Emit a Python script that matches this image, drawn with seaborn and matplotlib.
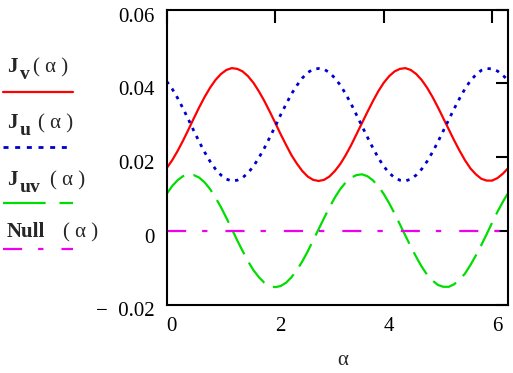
import numpy as np
import pandas as pd
import matplotlib
matplotlib.use("Agg")
import matplotlib.pyplot as plt
import matplotlib.transforms as mtransforms
from matplotlib.lines import Line2D
import seaborn as sns

# ---- data ----
alpha = [0.0, 0.1, 0.2, 0.3, 0.4, 0.5, 0.6, 0.7, 0.8, 0.9,
         1.0, 1.1, 1.2, 1.3, 1.4, 1.5, 1.6, 1.7, 1.8, 1.9,
         2.0, 2.1, 2.2, 2.3, 2.4, 2.5, 2.6, 2.7, 2.8, 2.9,
         3.0, 3.1, 3.2, 3.3, 3.4, 3.5, 3.6, 3.7, 3.8, 3.9,
         4.0, 4.1, 4.2, 4.3, 4.4, 4.5, 4.6, 4.7, 4.8, 4.9,
         5.0, 5.1, 5.2, 5.3, 5.4, 5.5, 5.6, 5.7, 5.8, 5.9,
         6.0, 6.1, 6.2, 6.283]
J_v = [0.0170, 0.0191, 0.0216, 0.0244, 0.0274, 0.0305, 0.0335, 0.0363, 0.0388, 0.0409,
       0.0425, 0.0436, 0.0441, 0.0439, 0.0432, 0.0419, 0.0401, 0.0378, 0.0352, 0.0323,
       0.0293, 0.0262, 0.0233, 0.0205, 0.0182, 0.0162, 0.0147, 0.0138, 0.0135, 0.0138,
       0.0147, 0.0162, 0.0181, 0.0205, 0.0232, 0.0262, 0.0292, 0.0322, 0.0351, 0.0378,
       0.0401, 0.0419, 0.0432, 0.0439, 0.0441, 0.0436, 0.0425, 0.0409, 0.0388, 0.0363,
       0.0335, 0.0305, 0.0275, 0.0245, 0.0217, 0.0191, 0.0169, 0.0153, 0.0141, 0.0136,
       0.0136, 0.0143, 0.0155, 0.0168]
J_u = [0.0405, 0.0385, 0.0360, 0.0332, 0.0302, 0.0271, 0.0241, 0.0213, 0.0188, 0.0167,
       0.0151, 0.0140, 0.0135, 0.0137, 0.0144, 0.0157, 0.0175, 0.0198, 0.0224, 0.0253,
       0.0283, 0.0314, 0.0343, 0.0371, 0.0394, 0.0414, 0.0429, 0.0438, 0.0440, 0.0438,
       0.0429, 0.0414, 0.0395, 0.0371, 0.0344, 0.0314, 0.0284, 0.0254, 0.0225, 0.0198,
       0.0175, 0.0157, 0.0144, 0.0137, 0.0135, 0.0140, 0.0151, 0.0167, 0.0188, 0.0213,
       0.0241, 0.0271, 0.0301, 0.0331, 0.0359, 0.0385, 0.0407, 0.0423, 0.0435, 0.0440,
       0.0439, 0.0433, 0.0421, 0.0410]
J_uv = [0.0100, 0.0121, 0.0137, 0.0148, 0.0153, 0.0151, 0.0144, 0.0131, 0.0113, 0.0090,
        0.0064, 0.0035, 0.0005, -0.0026, -0.0055, -0.0083, -0.0107, -0.0126, -0.0141, -0.0150,
        -0.0153, -0.0150, -0.0141, -0.0126, -0.0107, -0.0083, -0.0056, -0.0026, 0.0004, 0.0034,
        0.0063, 0.0090, 0.0113, 0.0131, 0.0144, 0.0151, 0.0153, 0.0148, 0.0137, 0.0121,
        0.0100, 0.0075, 0.0047, 0.0017, -0.0013, -0.0043, -0.0071, -0.0097, -0.0119, -0.0135,
        -0.0147, -0.0152, -0.0152, -0.0145, -0.0133, -0.0116, -0.0093, -0.0067, -0.0039, -0.0009,
        0.0022, 0.0052, 0.0079, 0.0100]
null = [0.0] * len(alpha)

x_ticks = [0, 2, 4, 6]
y_ticks = [-0.02, 0.0, 0.02, 0.04, 0.06]
y_ticklabels = ["\u2212  0.02", "0", "0.02", "0.04", "0.06"]

# legend pieces: (main bold text, bold subscript, argument text)
legend_main = ["J", "J", "J", "Null"]
legend_sub = ["v", "u", "uv", ""]
legend_arg = ["( α )", "( α )", "( α )", "( α )"]

df = pd.DataFrame({"alpha": alpha, "Jv": J_v, "Ju": J_u, "Juv": J_uv, "Null": null})

# ---- style ----
sns.set_theme(style="white")
plt.rcParams["font.family"] = ["Liberation Serif", "DejaVu Serif"]

W, H = 513, 373
fig = plt.figure(figsize=(W / 100, H / 100), dpi=100)
ax = fig.add_axes([166.7 / W, 1 - 304.5 / H, (507.5 - 166.7) / W, (304.5 - 9.5) / H])

RED, BLUE, GREEN, MAG = "#ff0000", "#0000cc", "#00dd00", "#ee00ee"

sns.lineplot(data=df, x="alpha", y="Jv", ax=ax, color=RED, lw=1.6)
sns.lineplot(data=df, x="alpha", y="Ju", ax=ax, color=BLUE, lw=2.0, linestyle=(0, (1.2, 2.0)))
sns.lineplot(data=df, x="alpha", y="Juv", ax=ax, color=GREEN, lw=1.6, linestyle=(0, (11.5, 4.3)))
sns.lineplot(data=df, x="alpha", y="Null", ax=ax, color=MAG, lw=1.6,
             linestyle=(0, (8.6, 7.2, 2.4, 8.1)))

ax.set_xlim(0, 2 * np.pi)
ax.set_ylim(-0.02, 0.06)
ax.set_xticks(x_ticks)
ax.set_xticklabels([str(t) for t in x_ticks])
ax.set_yticks(y_ticks)
ax.set_yticklabels(y_ticklabels)
ax.tick_params(direction="in", length=9, width=1.5, top=True, right=True,
               labelsize=15, colors="black")
ax.tick_params(axis="y", pad=8.5)
ax.tick_params(axis="x", pad=9)
for sp in ax.spines.values():
    sp.set_visible(True)
    sp.set_color("black")
    sp.set_linewidth(1.5)
ax.set_ylabel("")
ax.set_xlabel("α", fontsize=15, labelpad=11, x=0.515)
ax.grid(False)

# Mathcad-like offsets of tick labels
for lab in ax.get_xticklabels():
    lab.set_transform(lab.get_transform() + mtransforms.ScaledTranslation(5 / 100, 0, fig.dpi_scale_trans))
for lab in ax.get_yticklabels():
    lab.set_transform(lab.get_transform() + mtransforms.ScaledTranslation(0, -5 / 100, fig.dpi_scale_trans))

# ---- legend on the left ----
text_base = [72, 128, 185, 237]
arg_x = [33, 38, 50, 63]
line_y = [92, 147, 203, 249]
styles = [
    dict(color=RED, lw=1.6, linestyle="-"),
    dict(color=BLUE, lw=2.0, linestyle=(0, (1.8, 2.4))),
    dict(color=GREEN, lw=1.6, linestyle=(0, (19.2, 6.2))),
    dict(color=MAG, lw=1.6, linestyle=(0, (8.6, 7.2, 2.4, 8.1))),
]
for main, sub, arg, ty, ax_, ly, st in zip(legend_main, legend_sub, legend_arg,
                                          text_base, arg_x, line_y, styles):
    fig.text(7 / W, 1 - ty / H, main, fontsize=15, fontweight="bold", ha="left", va="baseline")
    if sub:
        fig.text(20 / W, 1 - (ty + 7) / H, sub, fontsize=14, fontweight="bold",
                 ha="left", va="baseline")
    fig.text(ax_ / W, 1 - ty / H, arg, fontsize=15, ha="left", va="baseline")
    fig.add_artist(Line2D([3 / W, 73 / W], [1 - ly / H, 1 - ly / H],
                          transform=fig.transFigure, **st))

fig.savefig("out.png", dpi=100)
